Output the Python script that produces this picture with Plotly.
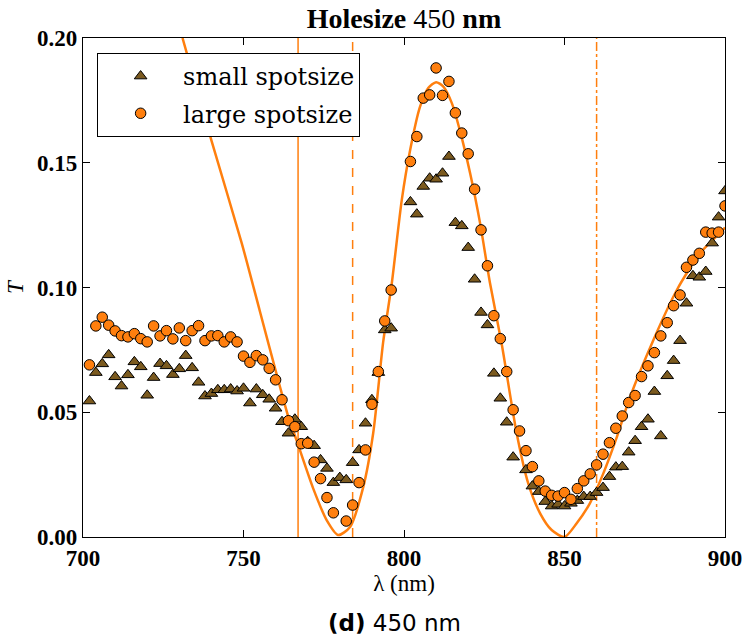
import plotly.graph_objects as go

# ---------------- data ----------------
large_wl = [702, 704, 706, 708, 710, 712, 714, 716, 718, 720, 722, 724, 726, 728, 730,
            732, 734, 736, 738, 740, 742, 744, 746, 748, 750, 752, 754, 756, 758, 760,
            762, 764, 766, 768, 770, 772, 774, 776, 778, 782, 784, 786, 788, 790, 792,
            794, 796, 802, 804, 806, 808, 810, 812, 814, 816, 818, 820, 822, 824, 826,
            828, 830, 832, 834, 836, 838, 840, 842, 844, 846, 848, 850, 852, 854, 856,
            858, 860, 862, 864, 866, 868, 870, 872, 874, 876, 878, 880, 882, 884, 886,
            888, 890, 892, 894, 896, 898, 900]
large_T = [0.069, 0.0846, 0.0881, 0.0849, 0.0826, 0.0807, 0.0802, 0.0815, 0.0795, 0.0782,
           0.0846, 0.0806, 0.0827, 0.0794, 0.0838, 0.0787, 0.0827, 0.0847, 0.0787, 0.0806,
           0.0807, 0.0782, 0.0802, 0.0782, 0.0725, 0.070, 0.0727, 0.071, 0.0676, 0.063,
           0.055, 0.0466, 0.0442, 0.0374, 0.0376, 0.030, 0.0234, 0.0158, 0.0097, 0.0064,
           0.0128, 0.0218, 0.0349, 0.0532, 0.0663, 0.0866, 0.099, 0.1505, 0.1605, 0.1759,
           0.1772, 0.188, 0.177, 0.1826, 0.170, 0.1619, 0.1536, 0.1394, 0.1231, 0.1087,
           0.0887, 0.0795, 0.0663, 0.051, 0.0425, 0.0346, 0.0282, 0.0225, 0.0184, 0.0167,
           0.0164, 0.0178, 0.0151, 0.0194, 0.0225, 0.0253, 0.0289, 0.0332, 0.0378, 0.0436,
           0.0485, 0.0539, 0.0567, 0.0643, 0.0686, 0.0739, 0.0806, 0.0859, 0.0927, 0.097,
           0.1081, 0.111, 0.1137, 0.1222, 0.1218, 0.1222, 0.1327]

small_wl = [702, 704, 706, 708, 710, 712, 714, 716, 718, 720, 722, 724, 726, 728, 730,
            732, 734, 736, 738, 740, 742, 744, 746, 748, 750, 752, 754, 756, 758, 760,
            762, 764, 766, 768, 770, 772, 774, 776, 778, 780, 782, 784, 786, 788, 790,
            792, 794, 796, 802, 804, 806, 808, 810, 812, 814, 816, 818, 820, 822, 824,
            826, 828, 830, 832, 834, 838, 840, 842, 844, 846, 848, 850, 852, 854, 856,
            858, 860, 862, 864, 866, 868, 870, 872, 874, 876, 878, 880, 882, 884, 886,
            888, 890, 892, 894, 896, 898, 900]
small_T = [0.0545, 0.0659, 0.0694, 0.073, 0.0642, 0.0605, 0.065, 0.0702, 0.0682, 0.0568,
           0.0639, 0.0695, 0.0686, 0.0651, 0.0674, 0.0727, 0.0678, 0.062, 0.0565, 0.0575,
           0.059, 0.059, 0.0593, 0.0585, 0.0596, 0.0537, 0.0593, 0.057, 0.0552, 0.0516,
           0.0462, 0.0416, 0.0472, 0.0442, 0.0382, 0.0366, 0.0309, 0.0275, 0.0218, 0.0238,
           0.0229, 0.0298, 0.0349, 0.0456, 0.055, 0.0659, 0.083, 0.0837, 0.1343, 0.1294,
           0.1405, 0.1438, 0.1434, 0.1458, 0.1525, 0.126, 0.1247, 0.116, 0.1033, 0.090,
           0.085, 0.0656, 0.0556, 0.046, 0.032, 0.0269, 0.0204, 0.0182, 0.0142, 0.0124,
           0.0131, 0.0124, 0.0135, 0.0146, 0.0162, 0.0162, 0.0178, 0.0198, 0.0242, 0.028,
           0.0282, 0.034, 0.0386, 0.0442, 0.0472, 0.0583, 0.0405, 0.0646, 0.0707, 0.0787,
           0.0937, 0.1047, 0.1041, 0.1064, 0.1178, 0.1282, 0.1387]

fit_wl = [731.0, 740.0, 749.4, 755.1, 761.4, 764.0, 766.6, 771.7, 775.9, 779.5, 783.2,
          787.3, 790.4, 793.5, 796.2, 799.3, 801.9, 805.0, 807.6, 810.0, 812.2, 814.9,
          817.4, 820.6, 823.7, 826.8, 830.4, 835.1, 838.7, 842.4, 846.0, 850.0, 853.8,
          857.9, 862.1, 866.3, 870.4, 877.7, 885.0, 892.2, 898.4, 900.0]
fit_T = [0.200, 0.159, 0.118, 0.0905, 0.060, 0.048, 0.0385, 0.0195, 0.0068, 0.0008, 0.004,
         0.020, 0.0416, 0.078, 0.1017, 0.135, 0.155, 0.1725, 0.180, 0.1823, 0.1806, 0.1739,
         0.163, 0.1458, 0.1258, 0.1017, 0.0777, 0.0416, 0.0215, 0.0095, 0.0028, 0.0, 0.0055,
         0.0135, 0.0255, 0.040, 0.056, 0.079, 0.099, 0.1137, 0.1218, 0.124]

resonances = [767, 784, 860]
resonance_dash = ["solid", "dash", "dashdot"]

x_ticks = [700, 750, 800, 850, 900]
y_ticks = [0.00, 0.05, 0.10, 0.15, 0.20]

ORANGE = "#ff7f0e"
BROWN = "#7b5a1f"
SERIF = "Liberation Serif, DejaVu Serif, serif"

fig = go.Figure()

# fitted curve
fig.add_trace(go.Scatter(x=fit_wl, y=fit_T, mode="lines",
                         line=dict(color=ORANGE, width=2.5, shape="spline", smoothing=0.7),
                         showlegend=False, hoverinfo="skip"))

# resonance lines
for wl, dash in zip(resonances, resonance_dash):
    fig.add_trace(go.Scatter(x=[wl, wl], y=[y_ticks[0], y_ticks[-1]], mode="lines",
                             line=dict(color=ORANGE, width=1.5, dash=dash),
                             showlegend=False, hoverinfo="skip"))

fig.add_trace(go.Scatter(x=small_wl, y=small_T, mode="markers", name="small spotsize",
                         legendgroup="small",
                         marker=dict(symbol="triangle-up", size=11, color=BROWN,
                                     line=dict(color="black", width=1))))
fig.add_trace(go.Scatter(x=large_wl, y=large_T, mode="markers", name="large spotsize",
                         legendgroup="large",
                         marker=dict(symbol="circle", size=10.5, color=ORANGE,
                                     line=dict(color="black", width=1))))

axis_common = dict(showline=True, linecolor="black", linewidth=1.2, mirror="allticks",
                   ticks="inside", ticklen=7, tickcolor="black", showgrid=False, zeroline=False,
                   automargin=False,
                   tickfont=dict(family=SERIF, size=23, color="black"))

fig.update_xaxes(range=[700, 900], tickvals=x_ticks, ticktext=[f"<b>{v}</b>" for v in x_ticks],
                 title=dict(text="λ (nm)", font=dict(family=SERIF, size=23, color="black"), standoff=0),
                 **axis_common)
fig.update_yaxes(range=[0, 0.2], tickvals=y_ticks, ticktext=[f"<b>{v:.2f}</b>" for v in y_ticks],
                 title=dict(text="<i>T</i>", font=dict(family=SERIF, size=23, color="black"), standoff=6),
                 **axis_common)

fig.update_layout(
    width=746, height=641,
    margin=dict(l=83, r=21, t=38, b=104),
    plot_bgcolor="white", paper_bgcolor="white",
    title=dict(text="<b>Holesize</b> 450 <b>nm</b>", xref="paper", x=0.5, xanchor="center",
               y=0.972, yanchor="middle", font=dict(family=SERIF, size=28, color="black")),
    legend=dict(x=0.022, y=0.97, xanchor="left", yanchor="top", bordercolor="black", borderwidth=1,
                bgcolor="white", font=dict(family="DejaVu Serif, serif", size=24, color="black"),
                itemwidth=75, tracegroupgap=3),
    annotations=[dict(text="<b>(d)</b> 450 nm", xref="paper", yref="paper", x=0.485, y=-0.172,
                      xanchor="center", yanchor="middle", showarrow=False,
                      font=dict(family="DejaVu Sans, sans-serif", size=23, color="black"))],
)

fig.write_html("out.html", config={"displayModeBar": False},
               post_script="document.body.style.margin='0px';document.body.style.overflow='hidden';")
